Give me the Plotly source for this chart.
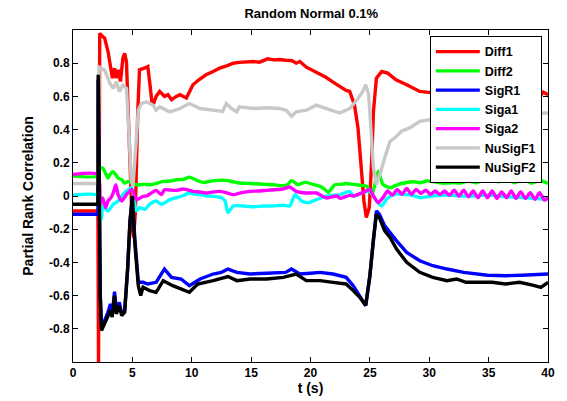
import plotly.graph_objects as go

# ---------------- data ----------------
diff1_t = [0, 2.1, 2.15, 2.25, 2.5, 2.67, 2.95, 3.15, 3.32, 3.5, 3.65, 3.8, 4.0, 4.2, 4.35, 4.5, 4.75, 5.0, 5.1,
           5.25, 5.45, 5.6, 6.0, 6.3, 6.5, 6.65, 6.8, 7.0, 7.3, 7.7, 8.0, 8.3, 8.7, 9.0, 9.55, 10.1, 10.6, 11.2, 11.8,
           12.35, 13.0, 13.5, 14.0, 14.6, 15.2, 15.7, 16.0, 16.4, 16.9, 17.4, 17.9, 18.4, 18.8, 19.1, 19.65, 20.2,
           20.8, 21.3, 21.9, 22.5, 23.0, 23.3, 23.7, 24.0, 24.3, 24.5, 24.7, 24.95, 25.15, 25.3, 25.55, 26.0, 26.5,
           27.2, 28.1, 29.2, 30.5, 32, 34, 36, 38, 39.3, 39.6, 40]
diff1_y = [-0.09, -0.09, -1.05, 0.98, 0.96, 0.95, 0.87, 0.79, 0.71, 0.77, 0.71, 0.76, 0.69, 0.83, 0.86, 0.81, 0.35,
           -0.2, -0.25, -0.1, 0.5, 0.76, 0.77, 0.78, 0.66, 0.56, 0.56, 0.6, 0.63, 0.6, 0.61, 0.58, 0.6, 0.61, 0.59,
           0.67, 0.7, 0.73, 0.75, 0.77, 0.785, 0.80, 0.805, 0.81, 0.81, 0.806, 0.815, 0.826, 0.82, 0.822, 0.818,
           0.816, 0.80, 0.81, 0.776, 0.755, 0.736, 0.715, 0.686, 0.66, 0.636, 0.63, 0.55, 0.41, 0.17, -0.03, -0.13,
           -0.07, 0.21, 0.51, 0.71, 0.75, 0.74, 0.70, 0.67, 0.63, 0.62, 0.615, 0.61, 0.61, 0.605, 0.6, 0.625, 0.61]

diff2_t = [0, 2.1, 2.2, 2.5, 2.67, 2.95, 3.1, 3.37, 3.5, 3.8, 4.1, 4.35, 4.65, 4.9, 5.2, 5.6, 6.0, 6.5, 7.0, 7.6,
           8.2, 8.7, 9.3, 9.8, 10.4, 11.0, 11.6, 12.3, 12.9, 13.5, 14.0, 14.7, 15.45, 16.1, 16.85, 17.7, 18.1, 18.4,
           18.95, 19.3, 19.65, 20.2, 20.8, 21.2, 21.5, 22.05, 22.5, 23.0, 23.6, 24.2, 24.7, 25.0, 25.2, 25.45, 25.7,
           26.1, 26.7, 27.4, 28.0, 28.6, 29.2, 29.8, 30.3, 30.9, 31.5, 32.0, 32.6, 33.3, 34.0, 34.6, 35.1, 35.8,
           36.5, 37.2, 37.9, 38.6, 39.3, 40]
diff2_y = [0.12, 0.12, 0.17, 0.168, 0.147, 0.108, 0.128, 0.147, 0.138, 0.108, 0.098, 0.078, 0.088, 0.08, 0.07,
           0.068, 0.07, 0.068, 0.075, 0.088, 0.09, 0.098, 0.1, 0.114, 0.095, 0.082, 0.09, 0.094, 0.094, 0.085,
           0.078, 0.076, 0.074, 0.07, 0.068, 0.062, 0.07, 0.094, 0.068, 0.078, 0.082, 0.07, 0.058, 0.04, 0.022,
           0.068, 0.07, 0.075, 0.07, 0.065, 0.06, 0.03, 0.01, 0.08, 0.15, 0.07, 0.05, 0.07, 0.08, 0.086, 0.08, 0.09,
           0.088, 0.08, 0.078, 0.08, 0.078, 0.09, 0.08, 0.1, 0.108, 0.085, 0.1, 0.08, 0.1, 0.078, 0.095, 0.075]

sigr1_t = [0, 2.1, 2.12, 2.3, 2.4, 2.67, 2.95, 3.15, 3.3, 3.5, 3.65, 3.9, 4.1, 4.35, 4.6, 4.8, 5.0, 5.2, 5.5, 5.9,
           6.3, 7.0, 7.7, 8.3, 9.1, 9.8, 10.7, 11.8, 12.5, 13.05, 13.8, 14.9, 16.3, 17.9, 18.4, 19.1, 20.0, 20.8,
           21.9, 23.0, 23.6, 24.15, 24.65, 25.0, 25.3, 25.55, 25.8, 26.25, 27.25, 28.1, 29.2, 30.3, 31.5, 32.9,
           34.9, 36.5, 37.8, 39.0, 40]
sigr1_y = [-0.11, -0.11, 0.7, -0.6, -0.78, -0.75, -0.70, -0.65, -0.71, -0.577, -0.69, -0.64, -0.71, -0.69, -0.44,
           -0.15, -0.01, -0.25, -0.52, -0.52, -0.53, -0.52, -0.44, -0.49, -0.50, -0.54, -0.50, -0.47, -0.46, -0.44,
           -0.46, -0.47, -0.465, -0.46, -0.44, -0.47, -0.465, -0.46, -0.47, -0.49, -0.54, -0.60, -0.66, -0.48,
           -0.25, -0.09, -0.11, -0.18, -0.27, -0.34, -0.39, -0.42, -0.44, -0.46, -0.477, -0.48, -0.477, -0.475,
           -0.47]

siga1_t = [0, 2.1, 2.25, 2.4, 2.5, 2.95, 3.4, 3.8, 4.2, 4.65, 4.95, 5.2, 5.35, 5.6, 6.05, 6.45, 7.0, 7.45, 8.15,
           8.6, 9.2, 9.8, 10.3, 10.7, 11.3, 11.8, 12.5, 12.8, 13.05, 13.5, 14.3, 15.2, 16.0, 16.8, 17.7, 18.25,
           18.7, 19.25, 19.8, 20.5, 21.35, 22.5, 23.3, 23.6, 24.4, 25.0, 25.55, 26.0, 26.4, 27.0, 27.8, 28.5, 29.2,
           30.3, 31.5, 32.6, 33.8, 35.0, 36.5, 38.0, 39.0, 40]
siga1_y = [0.005, 0.005, -0.1, -0.14, -0.06, -0.09, -0.05, -0.03, 0.008, 0.038, 0.05, -0.05, -0.09, -0.07, -0.08,
           -0.05, -0.03, -0.05, -0.022, -0.012, 0.0, 0.018, 0.01, 0.008, 0.0, -0.002, -0.01, -0.03, -0.10, -0.06,
           -0.06, -0.065, -0.06, -0.06, -0.056, -0.06, 0.008, -0.03, -0.04, -0.022, 0.0, 0.008, 0.028, 0.0, 0.02,
           0.03, -0.03, -0.06, -0.02, 0.01, 0.01, 0.005, -0.01, 0.0, 0.005, 0.0, 0.0, 0.005, -0.005, -0.01, -0.015,
           -0.02]

siga2_t = [0, 2.1, 2.3, 2.5, 2.75, 2.95, 3.2, 3.4, 3.6, 3.8, 4.1, 4.5, 4.95, 5.35, 5.9, 6.2, 6.6, 7.0, 7.45, 7.7,
           8.15, 8.7, 9.3, 10.1, 10.7, 11.25, 11.8, 12.35, 12.9, 13.5, 14.2, 14.9, 15.6, 16.3, 17.0, 17.7, 18.25,
           18.8, 19.65, 20.5, 21.35, 22.2, 22.5, 23.3, 23.6, 24.4, 25.0, 25.3, 25.7, 26.1, 26.5, 26.9, 27.3, 27.7,
           28.1, 28.5, 28.9, 29.3, 29.7, 30.1, 30.5, 30.9, 31.3, 31.7, 32.1, 32.5, 32.9, 33.3, 33.7, 34.1, 34.5,
           34.9, 35.3, 35.7, 36.1, 36.5, 36.9, 37.3, 37.7, 38.1, 38.5, 38.9, 39.3, 39.7, 40]
siga2_y = [0.13, 0.13, -0.05, -0.012, -0.07, -0.03, -0.01, 0.02, 0.068, 0.008, -0.03, 0.008, 0.04, -0.022, -0.002,
           0.0, 0.018, 0.034, 0.008, 0.038, 0.036, 0.034, 0.042, 0.028, 0.024, 0.018, 0.025, 0.028, 0.02, 0.008,
           0.02, 0.028, 0.03, 0.034, 0.038, 0.042, 0.054, 0.028, 0.018, 0.018, -0.012, 0.0, -0.014, 0.004, 0.0,
           0.02, 0.04, 0.0, -0.04, -0.01, 0.03, 0.005, 0.04, 0.01, 0.045, 0.01, 0.04, 0.015, 0.035, 0.01, 0.03,
           0.01, 0.03, 0.005, 0.035, 0.0, 0.035, -0.005, 0.03, -0.01, 0.03, -0.01, 0.03, -0.015, 0.025, -0.01,
           0.03, -0.015, 0.025, -0.015, 0.02, -0.02, 0.02, -0.025, -0.01]

nusigf1_t = [0, 2.1, 2.2, 2.67, 3.1, 3.4, 3.65, 3.9, 4.2, 4.5, 4.7, 4.9, 5.05, 5.3, 5.5, 5.75, 6.2, 6.75, 7.0, 7.3,
             8.15, 9.0, 9.8, 10.7, 11.8, 12.6, 12.9, 13.35, 13.8, 14.0, 15.2, 16.3, 17.4, 17.95, 18.4, 18.8, 19.65,
             20.5, 21.35, 22.45, 23.3, 24.0, 24.4, 24.65, 24.9, 25.05, 25.3, 25.55, 25.85, 26.25, 26.7, 27.1, 27.65,
             28.35, 29.2, 31, 33, 35, 37, 39, 39.6, 40]
nusigf1_y = [0.075, 0.075, 0.776, 0.758, 0.68, 0.648, 0.689, 0.629, 0.668, 0.648, 0.4, 0.1, 0.058, 0.3, 0.517,
             0.557, 0.567, 0.547, 0.517, 0.537, 0.507, 0.527, 0.557, 0.527, 0.517, 0.51, 0.557, 0.527, 0.507,
             0.537, 0.527, 0.532, 0.527, 0.517, 0.48, 0.507, 0.517, 0.547, 0.527, 0.50, 0.527, 0.587, 0.63, 0.67,
             0.61, 0.41, 0.17, 0.07, 0.13, 0.23, 0.33, 0.35, 0.39, 0.41, 0.45, 0.47, 0.48, 0.49, 0.49, 0.495, 0.497,
             0.5]

nusigf2_t = [0, 2.1, 2.12, 2.3, 2.4, 2.67, 2.95, 3.15, 3.3, 3.5, 3.65, 3.9, 4.1, 4.35, 4.6, 4.8, 5.0, 5.2, 5.5,
             5.7, 5.9, 6.45, 7.0, 7.6, 8.4, 9.1, 9.8, 10.5, 11.8, 13.05, 13.8, 14.9, 16.3, 17.7, 18.8, 19.65, 20.8,
             21.9, 23.0, 23.6, 24.15, 24.65, 25.0, 25.3, 25.55, 25.8, 26.25, 26.7, 27.25, 28.1, 29.2, 30.3, 31.5,
             32.3, 33.1, 34.2, 35.3, 36.4, 37.6, 38.7, 39.4, 40]
nusigf2_y = [-0.05, -0.05, 0.73, -0.62, -0.81, -0.77, -0.73, -0.69, -0.73, -0.60, -0.71, -0.66, -0.72, -0.70,
             -0.44, -0.15, 0.0, -0.28, -0.54, -0.60, -0.55, -0.57, -0.58, -0.51, -0.54, -0.56, -0.58, -0.53, -0.51,
             -0.485, -0.51, -0.50, -0.50, -0.49, -0.47, -0.51, -0.51, -0.52, -0.53, -0.57, -0.61, -0.66, -0.48,
             -0.26, -0.11, -0.13, -0.21, -0.25, -0.32, -0.40, -0.46, -0.49, -0.51, -0.50, -0.52, -0.52, -0.52,
             -0.53, -0.52, -0.537, -0.55, -0.52]

series_names = ["Diff1", "Diff2", "SigR1", "Siga1", "Siga2", "NuSigF1", "NuSigF2"]
series_t = [diff1_t, diff2_t, sigr1_t, siga1_t, siga2_t, nusigf1_t, nusigf2_t]
series_y = [diff1_y, diff2_y, sigr1_y, siga1_y, siga2_y, nusigf1_y, nusigf2_y]
series_colors = ["#ff0000", "#00ff00", "#0000ff", "#00ffff", "#ff00ff", "#c8c8c8", "#000000"]
series_shapes = ["linear", "spline", "linear", "spline", "spline", "linear", "linear"]

x_ticks = [0, 5, 10, 15, 20, 25, 30, 35, 40]
y_ticks = [-0.8, -0.6, -0.4, -0.2, 0, 0.2, 0.4, 0.6, 0.8]
y_tick_text = ["-0.8", "-0.6", "-0.4", "-0.2", "0", "0.2", "0.4", "0.6", "0.8"]

# ---------------- figure ----------------
FONT = "Arial, Liberation Sans, Helvetica, sans-serif"
fig = go.Figure()
for name, tt, yy, col, shp in zip(series_names, series_t, series_y, series_colors, series_shapes):
    line = dict(color=col, width=3.4, shape=shp)
    if shp == "spline":
        line["smoothing"] = 0.6
    fig.add_trace(go.Scatter(x=tt, y=yy, mode="lines", name=name, line=line))

fig.update_layout(
    width=567, height=401,
    margin=dict(l=73, r=19, t=30, b=39, autoexpand=False),
    paper_bgcolor="white", plot_bgcolor="white",
    font=dict(family=FONT, size=12, color="black", weight="bold"),
    title=dict(text="Random Normal 0.1%", x=0.549, xanchor="center", y=0.978, yanchor="top",
               font=dict(size=13, family=FONT, weight="bold")),
    showlegend=True,
    legend=dict(x=0.987, xanchor="right", y=0.982, yanchor="top",
                bgcolor="white", bordercolor="black", borderwidth=1,
                font=dict(size=12.5, family=FONT, weight="bold"),
                itemwidth=44, tracegroupgap=0),
)
fig.update_xaxes(range=[0, 40], tickvals=x_ticks, ticks="inside", ticklen=5, tickcolor="black",
                 showline=True, linecolor="black", linewidth=1, mirror="ticks", showgrid=False, zeroline=False,
                 automargin=False, title=dict(text="t (s)", standoff=2), tickfont=dict(size=12))
fig.update_yaxes(range=[-1, 1], tickvals=y_ticks, ticktext=y_tick_text, ticks="inside", ticklen=5,
                 tickcolor="black", showline=True, linecolor="black", linewidth=1, mirror="ticks",
                 showgrid=False, zeroline=False, automargin=False,
                 title=dict(text="Partial Rank Correlation", standoff=12), tickfont=dict(size=12))

fig.write_html("out.html", config={"displayModeBar": False},
               post_script="document.body.style.margin='0px';document.body.style.overflow='hidden';")
